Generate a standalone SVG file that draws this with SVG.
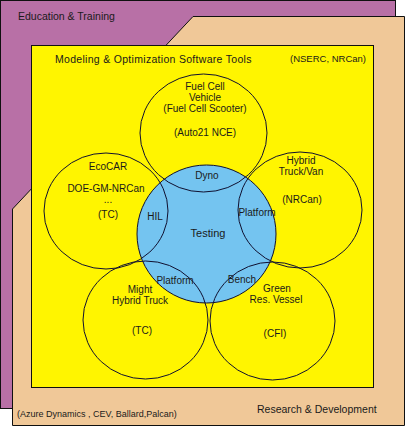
<svg xmlns="http://www.w3.org/2000/svg" width="405" height="426" viewBox="0 0 405 426">
<style>
text{font-family:"Liberation Sans",Arial,sans-serif;font-size:10px;fill:#1a1a1a}
.c{text-anchor:middle}
.o{fill:none;stroke:#101030;stroke-width:1}
.b{stroke:#101010;stroke-width:1}
</style>
<g id="education">
<rect class="b" x="0.5" y="0.5" width="395" height="408" fill="#B870A6"/>
<text x="18" y="20" style="font-size:10.5px">Education &amp; Training</text>
</g>
<g id="research">
<polygon class="b" points="193,16.5 404.5,16.5 404.5,425.5 12.5,425.5 12.5,209" fill="#F0C898"/>
<text x="257" y="413" style="font-size:10.5px">Research &amp; Development</text>
<text x="17" y="417" style="font-size:9px">(Azure Dynamics , CEV, Ballard,Palcan)</text>
</g>
<g id="modeling">
<rect class="b" x="31.5" y="45.5" width="342" height="342" fill="#FFF500"/>
<text x="55" y="63" style="font-size:10.5px;letter-spacing:0.3px">Modeling &amp; Optimization Software Tools</text>
<text x="290" y="62" style="font-size:9.5px">(NSERC, NRCan)</text>
</g>
<g id="testing">
<ellipse cx="206.5" cy="234" rx="69.5" ry="69" fill="#74C4F0" stroke="#101030"/>
<text class="c" x="208" y="237" style="font-size:11px">Testing</text>
</g>
<g id="fuelcell">
<ellipse class="o" cx="203.5" cy="133" rx="63.5" ry="59"/>
<text class="c" x="205" y="90">Fuel Cell</text>
<text class="c" x="205" y="101">Vehicle</text>
<text class="c" x="205" y="112">(Fuel Cell Scooter)</text>
<text class="c" x="205" y="136">(Auto21 NCE)</text>
</g>
<g id="ecocar">
<ellipse class="o" cx="106" cy="211" rx="62" ry="58"/>
<text class="c" x="108" y="170">EcoCAR</text>
<text class="c" x="106" y="192">DOE-GM-NRCan</text>
<text class="c" x="108" y="203">...</text>
<text class="c" x="108" y="218">(TC)</text>
</g>
<g id="hybrid">
<ellipse class="o" cx="300" cy="210" rx="62" ry="58"/>
<text class="c" x="301" y="164">Hybrid</text>
<text class="c" x="301" y="175">Truck/Van</text>
<text class="c" x="302" y="203">(NRCan)</text>
</g>
<g id="might">
<ellipse class="o" cx="145.5" cy="320" rx="62.5" ry="59"/>
<text class="c" x="140" y="293">Might</text>
<text class="c" x="140" y="304">Hybrid Truck</text>
<text class="c" x="142" y="334">(TC)</text>
</g>
<g id="green">
<ellipse class="o" cx="272.5" cy="321" rx="62.5" ry="59"/>
<text class="c" x="277" y="292">Green</text>
<text class="c" x="276" y="303">Res. Vessel</text>
<text class="c" x="275" y="337">(CFI)</text>
</g>
<g id="labels">
<text class="c" x="207" y="179">Dyno</text>
<text class="c" x="155" y="220">HIL</text>
<text class="c" x="257" y="216">Platform</text>
<text class="c" x="175" y="284">Platform</text>
<text class="c" x="242" y="283">Bench</text>
</g>
<g id="connectors"></g>
</svg>
